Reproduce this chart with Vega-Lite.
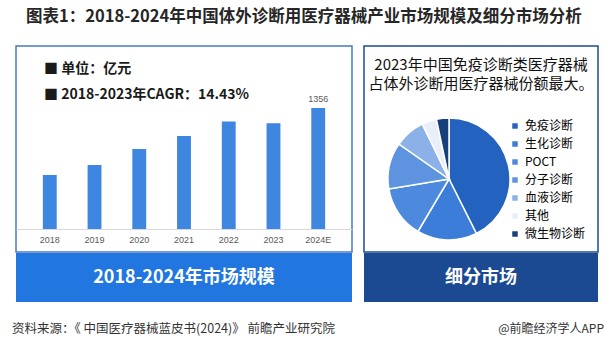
{
 "$schema": "https://vega.github.io/schema/vega-lite/v6.json",
 "background": "#ffffff",
 "padding": {"left": 12, "top": 8, "right": 0, "bottom": 0},
 "config": {
   "font": "Noto Sans CJK SC",
   "view": {"stroke": null},
   "title": {"font": "Noto Sans CJK SC"},
   "text": {"font": "Noto Sans CJK SC"}
 },
 "title": {"text": "图表1：2018-2024年中国体外诊断用医疗器械产业市场规模及细分市场分析", "anchor": "start", "fontSize": 16.5, "fontWeight": "bold", "color": "#262626", "dx": 14, "offset": 20},
 "spacing": 17,
 "resolve": {"scale": {"color": "independent"}, "legend": {"color": "independent"}},
 "vconcat": [
  {"spacing": 10,
   "resolve": {"scale": {"color": "independent"}, "legend": {"color": "independent"}},
   "hconcat": [
    {"spacing": 0, "vconcat": [
      {"width": 336, "height": 206,
       "view": {"stroke": "#4A78C0", "strokeWidth": 1.5},
       "title": {"text": ["■  单位：亿元", "■  2018-2023年CAGR：14.43%"], "anchor": "start", "offset": -56, "dx": 28, "fontSize": 14, "fontWeight": "bold", "lineHeight": 26, "color": "#1a1a1a"},
       "data": {"values": [
         {"year": "2018", "value": 605},
         {"year": "2019", "value": 717},
         {"year": "2020", "value": 896},
         {"year": "2021", "value": 1042},
         {"year": "2022", "value": 1205},
         {"year": "2023", "value": 1186},
         {"year": "2024E", "value": 1356}
       ]},
       "encoding": {
         "x": {"field": "year", "type": "ordinal", "scale": {"paddingInner": 0.69, "paddingOuter": 0.6},
               "axis": {"title": null, "orient": "bottom", "offset": -23, "ticks": false, "labelAngle": 0, "domainColor": "#D9D9D9", "domainWidth": 1, "labelColor": "#595959", "labelFontSize": 9, "labelFont": "Liberation Sans", "labelPadding": 6, "grid": false}},
         "y": {"field": "value", "type": "quantitative", "scale": {"domain": [-258, 2051], "nice": false, "zero": false}, "axis": null}
       },
       "layer": [
         {"mark": {"type": "bar", "color": "#3E86DF"}},
         {"transform": [{"filter": "datum.year == '2024E'"}],
          "mark": {"type": "text", "baseline": "bottom", "dy": -4, "fontSize": 9, "color": "#595959", "font": "Liberation Sans"},
          "encoding": {"text": {"field": "value", "type": "quantitative", "format": "d"}}}
       ]
      },
      {"width": 336, "height": 49,
       "view": {"fill": "#2176E0", "stroke": null},
       "data": {"values": [{"t": "2018-2024年市场规模"}]},
       "mark": {"type": "text", "fontSize": 18, "fontWeight": "bold", "color": "#ffffff"},
       "encoding": {"text": {"field": "t", "type": "nominal"}}}
    ]},
    {"spacing": 0,
     "resolve": {"scale": {"color": "independent"}, "legend": {"color": "independent"}},
     "vconcat": [
      {"width": 234, "height": 206,
       "view": {"stroke": "#1D4B92", "strokeWidth": 1.5},
       "title": {"text": ["2023年中国免疫诊断类医疗器械", "占体外诊断用医疗器械份额最大。"], "anchor": "middle", "offset": -46, "fontSize": 15, "fontWeight": "normal", "lineHeight": 19, "color": "#111111"},
       "data": {"values": [
         {"type": "免疫诊断", "share": 42.6},
         {"type": "生化诊断", "share": 15.9},
         {"type": "POCT", "share": 13.9},
         {"type": "分子诊断", "share": 12.3},
         {"type": "血液诊断", "share": 8.1},
         {"type": "其他", "share": 3.9},
         {"type": "微生物诊断", "share": 3.3}
       ]},
       "mark": {"type": "arc", "outerRadius": 61, "stroke": "#ffffff", "strokeWidth": 1.5},
       "encoding": {
         "theta": {"field": "share", "type": "quantitative"},
         "order": {"field": "share", "sort": "descending"},
         "color": {"field": "type", "type": "nominal",
                   "scale": {"domain": ["免疫诊断", "生化诊断", "POCT", "分子诊断", "血液诊断", "其他", "微生物诊断"],
                             "range": ["#2462C0", "#3B7DD8", "#4D8ADD", "#5E94DF", "#8CB0E8", "#E9EFF8", "#173F7D"]},
                   "legend": {"title": null, "orient": "bottom-right", "offset": 12, "symbolType": "square", "symbolSize": 30, "symbolStrokeWidth": 0, "labelFontSize": 12, "labelColor": "#000000", "labelFont": "Noto Sans CJK SC", "rowPadding": 6, "labelOffset": 4}},
         "x": {"value": 85},
         "y": {"value": 133}
       }},
      {"width": 234, "height": 49,
       "view": {"fill": "#1B4A93", "stroke": null},
       "data": {"values": [{"t": "细分市场"}]},
       "mark": {"type": "text", "fontSize": 18, "fontWeight": "bold", "color": "#ffffff"},
       "encoding": {"text": {"field": "t", "type": "nominal"}}}
    ]}
  ]},
  {"width": 580, "height": 20,
   "data": {"values": [
     {"side": "l", "t": "资料来源：《 中国医疗器械蓝皮书(2024)》 前瞻产业研究院"},
     {"side": "r", "t": "@前瞻经济学人APP"}
   ]},
   "encoding": {"x": {"field": "side", "type": "nominal", "scale": {"type": "point", "padding": 0, "domain": ["l", "r"]}, "axis": null}},
   "layer": [
     {"transform": [{"filter": "datum.side == 'l'"}],
      "mark": {"type": "text", "align": "left", "dx": -4, "fontSize": 12.5, "color": "#333333"},
      "encoding": {"text": {"field": "t", "type": "nominal"}}},
     {"transform": [{"filter": "datum.side == 'r'"}],
      "mark": {"type": "text", "align": "right", "dx": 8, "fontSize": 12, "color": "#333333"},
      "encoding": {"text": {"field": "t", "type": "nominal"}}}
   ]}
 ]
}
